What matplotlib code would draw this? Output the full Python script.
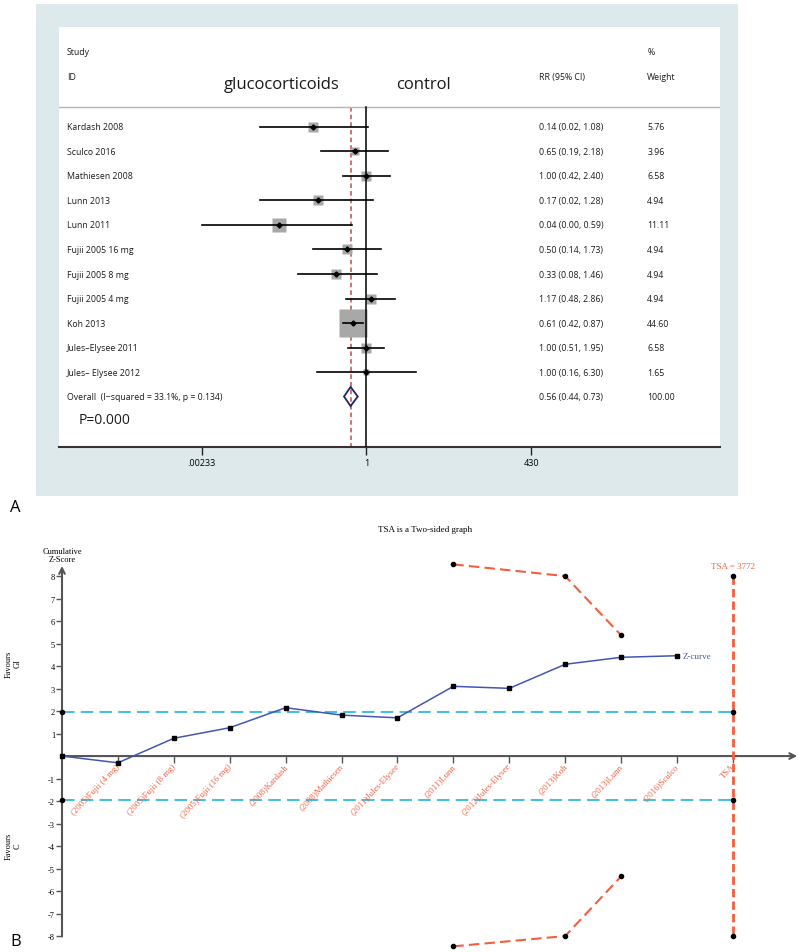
import matplotlib.pyplot as plt
from matplotlib.patches import Rectangle, Polygon
from matplotlib.transforms import blended_transform_factory
from matplotlib.ticker import NullLocator
import numpy as np

plt.rcParams['font.family'] = ['Open Sans', 'DejaVu Sans']

# ---- data for panel A (forest plot) ----
studies = ['Kardash 2008', 'Sculco 2016', 'Mathiesen 2008', 'Lunn 2013', 'Lunn 2011',
           'Fujii 2005 16 mg', 'Fujii 2005 8 mg', 'Fujii 2005 4 mg', 'Koh 2013',
           'Jules\u2013Elysee 2011', 'Jules\u2013 Elysee 2012']
rr = [0.14, 0.65, 1.00, 0.17, 0.04, 0.50, 0.33, 1.17, 0.61, 1.00, 1.00]
ci_low = [0.02, 0.19, 0.42, 0.02, 0.002, 0.14, 0.08, 0.48, 0.42, 0.51, 0.16]
ci_high = [1.08, 2.18, 2.40, 1.28, 0.59, 1.73, 1.46, 2.86, 0.87, 1.95, 6.30]
weights = [5.76, 3.96, 6.58, 4.94, 11.11, 4.94, 4.94, 4.94, 44.60, 6.58, 1.65]
overall_rr = 0.56
overall_low = 0.44
overall_high = 0.73
overall_label = 'Overall  (I\u2212squared = 33.1%, p = 0.134)'
forest_ticks = [0.00233, 1, 430]
forest_tick_labels = ['.00233', '1', '430']

# ---- data for panel B (TSA) ----
tsa_labels = ['(2005)Fujii (4 mg)', '(2005)Fujii (8 mg)', '(2005)Fujii (16 mg)',
              '(2008)Kardash', '(2008)Mathiesen', '(2011)Jules-Elysee', '(2011)Lunn',
              '(2012)Jules-Elysee', '(2013)Koh', '(2013)Lunn', '(2016)Sculco', 'TSA']
z_curve = [0, -0.30, 0.79, 1.26, 2.15, 1.82, 1.70, 3.10, 3.01, 4.08, 4.39, 4.46]
boundary_x = [7, 9, 10]
boundary_upper = [8.52, 8.00, 5.37]
boundary_lower = [-8.46, -8.00, -5.35]
conventional_z = 1.96
tsa_position = 12
tsa_required = 3772
tsa_top = 8
z_ticks = [8, 7, 6, 5, 4, 3, 2, 1, -1, -2, -3, -4, -5, -6, -7, -8]

W, H = 800, 953
fig = plt.figure(figsize=(W / 100, H / 100), dpi=100)


def px_rect(x0, y0, x1, y1):
    # pixel box (top-left origin) -> figure fraction rect
    return [x0 / W, 1 - y1 / H, (x1 - x0) / W, (y1 - y0) / H]


def fpx(x, y):
    return x / W, 1 - y / H


# light background of panel A
fig.add_artist(Rectangle((36 / W, 1 - 497 / H), 702 / W, 492 / H,
                         transform=fig.transFigure, facecolor='#dde9eb',
                         edgecolor='none', zorder=-5))

ax1 = fig.add_axes(px_rect(59, 28, 720, 448))
ax1.set_facecolor('white')
ax1.set_xscale('log')
ax1.set_xlim(10 ** -4.91, 10 ** 5.65)
ax1.set_ylim(13.06, -4.08)
for side in ['top', 'left', 'right']:
    ax1.spines[side].set_visible(False)
ax1.spines['bottom'].set_color('#3a3030')
ax1.spines['bottom'].set_linewidth(1.5)
ax1.set_yticks([])
ax1.set_xticks(forest_ticks)
ax1.set_xticklabels(forest_tick_labels)
ax1.xaxis.set_minor_locator(NullLocator())
ax1.tick_params(axis='x', length=6, width=1, labelsize=6.5, pad=2, color='#222222')

header_row = -0.82
bottom_row = 13.06
ax1.axhline(header_row, color='#b5b5b5', lw=1)
ax1.plot([1, 1], [header_row, bottom_row], color='black', lw=1.1, zorder=3)
ax1.plot([overall_rr, overall_rr], [header_row, bottom_row], color='#c0504d',
         lw=1.1, ls=(0, (3, 2)), zorder=1)

min_x = forest_ticks[0]
max_w = max(weights)
for i in range(len(studies)):
    ax1.plot(rr[i], i, marker='s', ms=19.5 * np.sqrt(weights[i] / max_w),
             color='#a8a8a8', mec='none', zorder=2)
    ax1.plot([max(ci_low[i], min_x), ci_high[i]], [i, i], color='black', lw=1.2, zorder=3)
    ax1.plot(rr[i], i, marker='D', ms=2.6, color='black', zorder=4)

n = len(studies)
diamond = Polygon([(overall_low, n), (overall_rr, n - 0.39), (overall_high, n),
                   (overall_rr, n + 0.39)], closed=True, fill=False,
                  edgecolor='#1d2560', lw=1.3, zorder=4)
ax1.add_patch(diamond)

trans = blended_transform_factory(ax1.transAxes, ax1.transData)
col_study = 0.012
col_rr = 0.726
col_w = 0.89
fs = 6.3
tc = '#1a1a1a'
ax1.text(col_study, -3.06, 'Study', transform=trans, fontsize=fs, va='center', color=tc)
ax1.text(col_study, -2.04, 'ID', transform=trans, fontsize=fs, va='center', color=tc)
ax1.text(col_rr, -2.04, 'RR (95% CI)', transform=trans, fontsize=fs, va='center', color=tc)
ax1.text(col_w, -3.06, '%', transform=trans, fontsize=fs, va='center', color=tc)
ax1.text(col_w, -2.04, 'Weight', transform=trans, fontsize=fs, va='center', color=tc)
ax1.text(0.337, -1.76, 'glucocorticoids', transform=trans, fontsize=12,
         ha='center', va='center', color=tc)
ax1.text(0.552, -1.76, 'control', transform=trans, fontsize=12,
         ha='center', va='center', color=tc)

for i in range(len(studies)):
    ax1.text(col_study, i, studies[i], transform=trans, fontsize=fs, va='center', color=tc)
    ax1.text(col_rr, i, '%.2f (%.2f, %.2f)' % (rr[i], ci_low[i], ci_high[i]),
             transform=trans, fontsize=fs, va='center', color=tc)
    ax1.text(col_w, i, '%.2f' % weights[i], transform=trans, fontsize=fs, va='center',
             color=tc)

ax1.text(col_study, n, overall_label, transform=trans, fontsize=fs, va='center', color=tc)
ax1.text(col_rr, n, '%.2f (%.2f, %.2f)' % (overall_rr, overall_low, overall_high),
         transform=trans, fontsize=fs, va='center', color=tc)
ax1.text(col_w, n, '%.2f' % sum(weights), transform=trans, fontsize=fs, va='center',
         color=tc)
ax1.text(0.029, n + 0.92, 'P=0.000', transform=trans, fontsize=10, va='center', color=tc)

fig.text(*fpx(10, 508), 'A', fontsize=12, va='center', ha='left')
fig.text(*fpx(10, 942), 'B', fontsize=12, va='center', ha='left')

# ---- panel B ----
serif = 'Liberation Serif'
red = '#f0603f'
cyan = '#48bfe0'
blue = '#4356b3'
axis_grey = '#555555'

ax2 = fig.add_axes(px_rect(62, 560, 800, 953))
ax2.patch.set_alpha(0)
ax2.set_xlim(0, 13.2)
ax2.set_ylim(-8.71, 8.76)
for s in ax2.spines.values():
    s.set_visible(False)
ax2.set_xticks([])
ax2.set_yticks(z_ticks)
ax2.set_yticklabels([str(t) for t in z_ticks], family=serif)
ax2.tick_params(axis='y', length=4, width=1, color=axis_grey, labelsize=6, pad=1)

# axes with arrows
ax2.annotate('', xy=(0, 8.45), xytext=(0, -8.02),
             arrowprops=dict(arrowstyle='->', color=axis_grey, lw=1.5,
                             shrinkA=0, shrinkB=0))
ax2.annotate('', xy=(13.15, 0), xytext=(0, 0),
             arrowprops=dict(arrowstyle='->', color=axis_grey, lw=1.5,
                             shrinkA=0, shrinkB=0))

label_pos = np.arange(1, len(tsa_labels) + 1)
ax2.plot(label_pos, np.zeros(len(tsa_labels)), ls='none',
         marker=3, ms=5, mew=1, color=axis_grey, clip_on=False)
for i, lab in enumerate(tsa_labels):
    ax2.text(label_pos[i] - 0.04, -0.25, lab, rotation=47, rotation_mode='anchor',
             ha='right', va='top', color=red, fontsize=6.3, family=serif)

# conventional boundaries
for zc in [conventional_z, -conventional_z]:
    ax2.plot([0, tsa_position], [zc, zc], color=cyan, lw=1.5, ls=(0, (6, 3)), zorder=2)
    ax2.plot([0, tsa_position], [zc, zc], ls='none', marker='o', ms=3,
             color='black', zorder=5, clip_on=False)

# monitoring boundaries
ax2.plot(boundary_x, boundary_upper, color=red, lw=1.5, ls=(0, (5, 2.5)),
         marker='o', ms=3, mfc='black', mec='black', zorder=3)
ax2.plot(boundary_x, boundary_lower, color=red, lw=1.5, ls=(0, (5, 2.5)),
         marker='o', ms=3, mfc='black', mec='black', zorder=3, clip_on=False)

# required information size line
ax2.plot([tsa_position, tsa_position], [tsa_top, -tsa_top], color=red, lw=2,
         ls=(0, (3, 1.5)), zorder=3)
ax2.plot([tsa_position, tsa_position], [tsa_top, -tsa_top], ls='none', marker='o',
         ms=3, color='black', zorder=5)
ax2.text(tsa_position, tsa_top + 0.28, 'TSA = %d' % tsa_required, color=red,
         fontsize=6.5, family=serif, ha='center', va='bottom')

# cumulative z-curve
x_idx = np.arange(len(z_curve))
ax2.plot(x_idx, z_curve, color=blue, lw=1.1, marker='s', ms=3.2, mfc='black',
         mec='black', zorder=6, clip_on=False)
ax2.text(x_idx[-1] + 0.1, z_curve[-1], 'Z-curve', color=blue, fontsize=6.5,
         family=serif, va='center', ha='left')

fig.text(*fpx(425, 530), 'TSA is a Two-sided graph', fontsize=6.5, family=serif,
         ha='center', va='center')
fig.text(*fpx(62, 556), 'Cumulative\nZ-Score', fontsize=6, family=serif,
         ha='center', va='center', linespacing=1.1)
fig.text(*fpx(13, 664), 'Favours\nGI', fontsize=6, family=serif, rotation=90,
         ha='center', va='center', linespacing=1.1)
fig.text(*fpx(13, 846), 'Favours\nC', fontsize=6, family=serif, rotation=90,
         ha='center', va='center', linespacing=1.1)

fig.savefig('out.png', dpi=100)
